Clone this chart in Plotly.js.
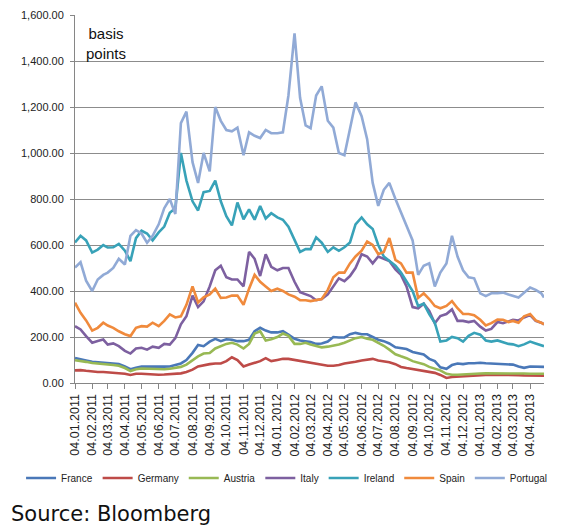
<!DOCTYPE html>
<html>
<head>
<meta charset="utf-8">
<script src="https://cdn.plot.ly/plotly-3.0.1.min.js"></script>
<style>html,body{margin:0;padding:0;background:#fff;}#chart{width:571px;height:531px;}</style>
</head>
<body>
<div id="chart"></div>
<script>
var dates = [
"2011-01-04","2011-01-14","2011-01-24","2011-02-04","2011-02-14","2011-02-24","2011-03-04","2011-03-14","2011-03-24",
"2011-04-04","2011-04-14","2011-04-24","2011-05-04","2011-05-14","2011-05-24","2011-06-04","2011-06-14","2011-06-24",
"2011-07-04","2011-07-14","2011-07-24","2011-08-04","2011-08-14","2011-08-24","2011-09-04","2011-09-14","2011-09-24",
"2011-10-04","2011-10-14","2011-10-24","2011-11-04","2011-11-14","2011-11-24","2011-12-04","2011-12-14","2011-12-24",
"2012-01-04","2012-01-14","2012-01-24","2012-02-04","2012-02-14","2012-02-24","2012-03-04","2012-03-14","2012-03-24",
"2012-04-04","2012-04-14","2012-04-24","2012-05-04","2012-05-14","2012-05-24","2012-06-04","2012-06-14","2012-06-24",
"2012-07-04","2012-07-14","2012-07-24","2012-08-04","2012-08-14","2012-08-24","2012-09-04","2012-09-14","2012-09-24",
"2012-10-04","2012-10-14","2012-10-24","2012-11-04","2012-11-14","2012-11-24","2012-12-04","2012-12-14","2012-12-24",
"2013-01-04","2013-01-14","2013-01-24","2013-02-04","2013-02-14","2013-02-24","2013-03-04","2013-03-14","2013-03-24",
"2013-04-04","2013-04-14","2013-04-24","2013-04-29"];

var seriesNames = ["France","Germany","Austria","Italy","Ireland","Spain","Portugal"];

var france = [109,102,98, 92,90,88, 86,84,82, 72,60,66, 72,71,70, 70,71,72, 78,85,100, 131,165,160, 180,192,182,
  190,188,182, 182,188,225, 240,228,220, 220,225,210, 192,185,183, 178,170,172, 180,200,198, 198,212,218, 212,212,200,
  188,182,172, 155,152,148, 135,128,124, 105,95,68, 62,78,85, 82,86,86, 88,86,85, 84,84,83, 80,72,66, 72,70,70,70];

var germany = [55,56,53, 50,48,48, 46,45,44, 40,35,40, 40,38,38, 36,37,38, 40,42,48, 58,72,78, 82,85,85,
  95,112,100, 72,80,88, 95,108,95, 100,105,105, 100,95,92, 88,82,80, 75,75,78, 85,88,92, 98,102,105,
  98,95,90, 82,70,65, 60,55,50, 47,44,35, 22,26,28, 30,32,33, 35,35,36, 36,37,36, 35,34,33, 33,32,32,32];

var austria = [99,97,92, 87,85,84, 80,78,75, 65,52,60, 63,62,60, 61,60,62, 65,70,80, 100,116,128, 130,150,160,
  170,175,167, 150,170,215, 225,185,190, 200,215,205, 170,170,175, 167,162,155, 158,162,167, 175,185,195, 200,192,188,
  175,162,145, 125,116,108, 95,88,82, 70,62,55, 40,36,36, 38,39,40, 41,42,42, 42,43,43, 44,42,41, 40,40,40,40];

var italy = [247,233,204, 175,183,189, 167,172,160, 140,128,150, 153,145,158, 153,170,167, 195,255,290, 380,330,355, 420,490,510,
  460,450,450, 420,570,540, 465,560,505, 490,500,500, 440,395,385, 378,360,365, 385,420,455, 443,465,500, 560,550,520,
  550,540,530, 494,470,420, 330,325,345, 313,260,291, 300,320,270, 270,265,270, 245,228,235, 265,260,268, 275,272,285, 295,270,262,255];

var ireland = [611,640,620, 567,580,600, 589,590,605, 575,530,630, 662,650,620, 655,680,740, 760,1000,880, 790,750,830, 835,880,790,
  725,685,785, 712,755,710, 770,715,738, 720,710,680, 620,570,582, 582,633,610, 570,590,575, 590,611,690, 720,690,670,
  600,550,530, 510,480,440, 400,335,345, 300,262,180, 185,200,195, 180,205,218, 210,185,180, 185,178,170, 168,160,168, 180,172,165,160];

var spain = [349,305,272, 228,240,262, 250,240,225, 212,204,240, 247,245,262, 247,270,298, 285,290,340, 420,350,372, 385,410,370,
  372,380,380, 340,410,470, 440,420,400, 410,400,385, 375,360,360, 356,360,365, 405,460,480, 480,520,550, 575,615,600,
  560,570,630, 535,520,480, 480,370,390, 365,335,325, 335,356,325, 300,300,295, 275,250,260, 276,275,265, 270,262,290, 300,272,262,255];

var portugal = [502,525,445, 400,450,470, 480,500,540, 515,640,665, 650,610,640, 690,760,800, 735,1130,1180, 960,870,1000, 920,1200,1140,
  1100,1094,1110, 990,1090,1075, 1065,1100,1086, 1086,1090,1250, 1520,1240,1120, 1108,1250,1290, 1140,1110,1000, 990,1105,1220, 1160,1060,870,
  770,840,870, 800,740,680, 620,470,510, 520,420,480, 520,640,550, 490,460,455, 390,378,390, 390,393,385, 378,372,392, 415,405,390,372];

var values = [france, germany, austria, italy, ireland, spain, portugal];
var colors = ["#4A78B8","#BE4B48","#98B954","#7D60A0","#38A2B8","#F08A3C","#91AAD6"];

var traces = seriesNames.map(function(n, i){
  return {x: dates, y: values[i], name: n, type: "scatter", mode: "lines",
          line: {color: colors[i], width: 2.6}};
});

var FONT = "Liberation Sans, Arial, sans-serif";

var layout = {
  width: 571, height: 531,
  margin: {l: 75, r: 27, t: 15, b: 148},
  paper_bgcolor: "#fff", plot_bgcolor: "#fff",
  font: {family: FONT, size: 11, color: "#222"},
  showlegend: true,
  legend: {orientation: "h", xref: "paper", yref: "paper", x: -0.115, xanchor: "left",
           y: -0.258, yanchor: "middle",
           font: {family: FONT, size: 10, color: "#222"},
           itemwidth: 30, tracegroupgap: 0, bgcolor: "rgba(0,0,0,0)", borderwidth: 0},
  xaxis: {type: "date", range: ["2011-01-04", "2013-04-29"], tick0: "2011-01-04", dtick: "M1",
          tickformat: "%d.%m.%Y", tickangle: -90, showgrid: false, zeroline: false,
          showline: true, linecolor: "#868686", linewidth: 1,
          ticks: "outside", ticklen: 5, tickcolor: "#868686",
          tickfont: {family: FONT, size: 12.5, color: "#222"}},
  yaxis: {range: [0, 1600], dtick: 200, tickformat: ",.2f", showgrid: true, gridcolor: "#8C8C8C", gridwidth: 1,
          zeroline: false, showline: true, linecolor: "#868686", linewidth: 1,
          ticks: "outside", ticklen: 4, tickcolor: "#868686", ticklabelstandoff: 4,
          tickfont: {family: FONT, size: 11, color: "#222"}},
  annotations: [
    {text: "basis<br>points", xref: "paper", yref: "paper", x: 0.066, y: 0.978, xanchor: "center", yanchor: "top",
     showarrow: false, font: {family: FONT, size: 15, color: "#111"}},
    {text: "Source: Bloomberg", xref: "paper", yref: "paper", x: -0.141, y: -0.356, xanchor: "left", yanchor: "middle",
     showarrow: false, font: {family: "DejaVu Sans, Verdana, sans-serif", size: 21, color: "#111"}}
  ]
};

Plotly.newPlot("chart", traces, layout, {staticPlot: true, displayModeBar: false});
</script>
</body>
</html>
